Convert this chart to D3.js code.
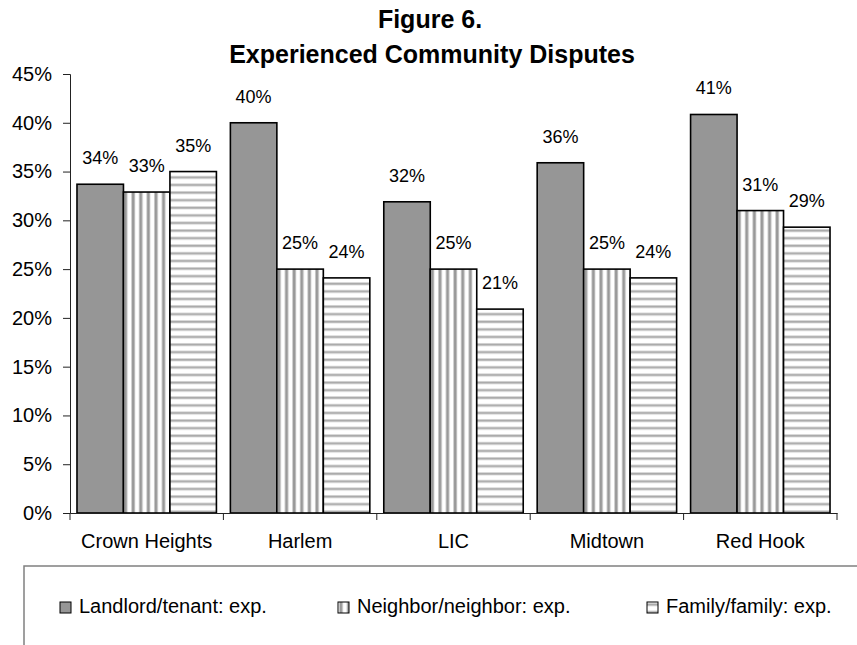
<!DOCTYPE html>
<html>
<head>
<meta charset="utf-8">
<script src="https://cdn.jsdelivr.net/npm/d3@7"></script>
<style>
  body { margin: 0; background: #fff; }
  svg { font-family: Arial, "Liberation Sans", sans-serif; }
</style>
</head>
<body>
<div id="chart"></div>
<script>
// chart values
var sites = ["Crown Heights", "Harlem", "LIC", "Midtown", "Red Hook"];
var seriesNames = ["Landlord/tenant: exp.", "Neighbor/neighbor: exp.", "Family/family: exp."];
var landlord = [0.337, 0.400, 0.319, 0.359, 0.4085];
var neighbor = [0.329, 0.250, 0.250, 0.250, 0.310];
var family = [0.350, 0.241, 0.209, 0.241, 0.293];
var yTicks = [0, 0.05, 0.10, 0.15, 0.20, 0.25, 0.30, 0.35, 0.40, 0.45];

var width = 857, height = 645;
var fills = ["#969696", "url(#vstripe)", "url(#hstripe)"];

var svg = d3.select("#chart")
    .append("svg")
    .attr("width", width)
    .attr("height", height);

// stripe patterns
var defs = svg.append("defs");
var vp = defs.append("pattern")
    .attr("id", "vstripe")
    .attr("patternUnits", "userSpaceOnUse")
    .attr("width", 7.6).attr("height", 10);
vp.append("rect").attr("width", 7.6).attr("height", 10).attr("fill", "#fff");
vp.append("rect").attr("x", 1).attr("width", 4).attr("height", 10).attr("fill", "#cfcfcf");
vp.append("rect").attr("x", 1.8).attr("width", 2.4).attr("height", 10).attr("fill", "#999");

var hp = defs.append("pattern")
    .attr("id", "hstripe")
    .attr("patternUnits", "userSpaceOnUse")
    .attr("width", 10).attr("height", 7.6);
hp.append("rect").attr("width", 10).attr("height", 7.6).attr("fill", "#fff");
hp.append("rect").attr("y", 1).attr("width", 10).attr("height", 3.2).attr("fill", "#d8d8d8");
hp.append("rect").attr("y", 1.8).attr("width", 10).attr("height", 1.6).attr("fill", "#a8a8a8");

var x0 = d3.scaleBand()
    .domain(sites)
    .range([70, 837])
    .paddingInner(0.091)
    .paddingOuter(0.0455);

var x1 = d3.scaleBand()
    .domain(d3.range(3))
    .range([0, x0.bandwidth()]);

var y = d3.scaleLinear()
    .domain([0, 0.45])
    .range([513, 74]);

var rows = sites.map(function (s, i) {
    return { site: s, vals: [landlord[i], neighbor[i], family[i]] };
});

// title
svg.append("text")
    .attr("x", 430).attr("y", 28)
    .attr("text-anchor", "middle")
    .attr("font-size", "25px").attr("font-weight", "bold")
    .text("Figure 6.");
svg.append("text")
    .attr("x", 432).attr("y", 63)
    .attr("text-anchor", "middle")
    .attr("font-size", "25px").attr("font-weight", "bold")
    .text("Experienced Community Disputes");

// y axis
var yAxis = svg.append("g")
    .attr("transform", "translate(70,0)")
    .call(d3.axisLeft(y).tickValues(yTicks).tickSize(7).tickPadding(11)
        .tickFormat(d3.format(".0%")));
yAxis.selectAll("text").attr("font-size", "20px").attr("font-family", "Arial, 'Liberation Sans', sans-serif").attr("fill", "#000");
yAxis.selectAll("line").attr("stroke", "#222");
yAxis.select(".domain").attr("stroke", "#222");

// bars
var groups = svg.selectAll(".site")
    .data(rows)
    .enter().append("g")
    .attr("class", "site")
    .attr("transform", function (d) { return "translate(" + x0(d.site) + ",0)"; });

groups.selectAll("rect")
    .data(function (d) { return d.vals; })
    .enter().append("rect")
    .attr("x", function (d, i) { return x1(i); })
    .attr("y", function (d) { return y(d); })
    .attr("width", x1.bandwidth())
    .attr("height", function (d) { return y(0) - y(d); })
    .attr("fill", function (d, i) { return fills[i]; })
    .attr("stroke", "#000")
    .attr("stroke-width", 1.6);

groups.selectAll(".lbl")
    .data(function (d) { return d.vals; })
    .enter().append("text")
    .attr("class", "lbl")
    .attr("x", function (d, i) { return x1(i) + x1.bandwidth() / 2; })
    .attr("y", function (d) { return y(d) - 20; })
    .attr("text-anchor", "middle")
    .attr("font-size", "18px")
    .text(function (d) { return Math.round(d * 100) + "%"; });

// x axis
var xAxis = svg.append("g")
    .attr("transform", "translate(0,513)")
    .call(d3.axisBottom(x0).tickSize(0).tickPadding(21));
xAxis.selectAll("text").attr("font-size", "20px").attr("font-family", "Arial, 'Liberation Sans', sans-serif").attr("fill", "#000");
xAxis.select(".domain").attr("stroke", "#222");
var bounds = sites.map(function (s) { return x0(s) - x0.step() * x0.paddingInner() / 2; });
bounds.push(x0.range()[1]);
xAxis.selectAll(".bound")
    .data(bounds)
    .enter().append("line")
    .attr("class", "bound")
    .attr("x1", function (d) { return d; })
    .attr("x2", function (d) { return d; })
    .attr("y1", 0).attr("y2", 7)
    .attr("stroke", "#222");

// legend
svg.append("rect")
    .attr("x", 24).attr("y", 566)
    .attr("width", 900).attr("height", 120)
    .attr("fill", "none")
    .attr("stroke", "#808080")
    .attr("stroke-width", 1.5);

var legendX = [60, 338, 647];
var leg = svg.selectAll(".leg")
    .data(seriesNames)
    .enter().append("g")
    .attr("class", "leg")
    .attr("transform", function (d, i) { return "translate(" + legendX[i] + ",602)"; });
leg.append("rect")
    .attr("width", 11).attr("height", 11)
    .attr("fill", function (d, i) { return fills[i]; })
    .attr("stroke", "#000").attr("stroke-width", 1);
leg.append("text")
    .attr("x", 19).attr("y", 11)
    .attr("font-size", "20px")
    .text(function (d) { return d; });
</script>
</body>
</html>
